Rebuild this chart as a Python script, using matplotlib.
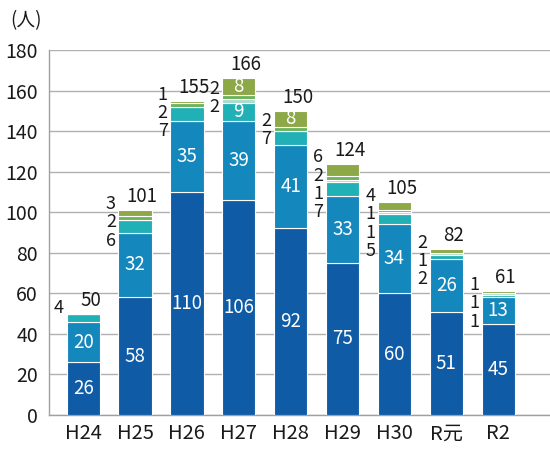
import numpy as np
import matplotlib.pyplot as plt

plt.rcParams['font.family'] = ['Noto Sans CJK JP', 'DejaVu Sans']

years = ['H24', 'H25', 'H26', 'H27', 'H28', 'H29', 'H30', 'R元', 'R2']
dark_blue = [26, 58, 110, 106, 92, 75, 60, 51, 45]
mid_blue = [20, 32, 35, 39, 41, 33, 34, 26, 13]
teal = [4, 6, 7, 9, 7, 7, 5, 2, 1]
pale = [0, 0, 0, 2, 0, 1, 1, 1, 1]
green = [0, 2, 2, 2, 2, 2, 1, 0, 0]
olive = [0, 3, 1, 8, 8, 6, 4, 2, 1]

series = [dark_blue, mid_blue, teal, pale, green, olive]
colors = ['#105ba6', '#1487bd', '#20b0b6', '#a9dccb', '#6cb25a', '#8da847']

fig = plt.figure(figsize=(5.5, 4.49), dpi=100)
ax = fig.add_axes([0.089, 0.0757, 0.911, 0.8129])

x = np.arange(len(years))
width = 0.64
bottom = np.zeros(len(years))
for vals, c in zip(series, colors):
    ax.bar(x, vals, width, bottom=bottom, color=c, edgecolor='white',
           linewidth=0.8, zorder=3)
    bottom += np.array(vals)

totals = bottom

# values drawn inside the bar when the segment is tall enough
for i in range(len(years)):
    base = 0
    side = []
    for vals in series:
        v = vals[i]
        if v >= 8:
            ax.text(x[i], base + v / 2, str(v), ha='center', va='center',
                    color='white', fontsize=13.5, zorder=4)
        elif v > 0:
            side.append(v)
        base += v
    # small values stacked on the left of the bar
    if side:
        top = base
        if olive[i] >= 8:
            top = base - olive[i]
        y0 = top + 3
        for k, v in enumerate(reversed(side)):
            ax.text(x[i] - width / 2 - 0.05, y0 - k * 9, str(v),
                    ha='right', va='center', fontsize=13, color='#1a1a1a')
    ax.text(x[i] + 0.14, totals[i] + 1.5, str(int(totals[i])), ha='center',
            va='bottom', fontsize=13.5, color='#1a1a1a')

ax.set_xlim(-0.66, 9.0)
ax.set_ylim(0, 180)
ax.set_yticks(range(0, 181, 20))
ax.set_xticks(x)
ax.set_xticklabels(years)
ax.tick_params(axis='x', length=0, labelsize=14.5, pad=6, colors='#1a1a1a')
ax.tick_params(axis='y', length=0, labelsize=14, pad=8, colors='#1a1a1a')
ax.grid(axis='y', color='#b0b0b0', linewidth=1.0, zorder=0)
for s in ['top', 'right']:
    ax.spines[s].set_visible(False)
for s in ['left', 'bottom']:
    ax.spines[s].set_color('#a0a0a0')
    ax.spines[s].set_linewidth(1.0)

fig.text(0.018, 0.955, '(人)', fontsize=13.5, ha='left', va='center',
         color='#1a1a1a')

fig.savefig('out.png', dpi=100)
